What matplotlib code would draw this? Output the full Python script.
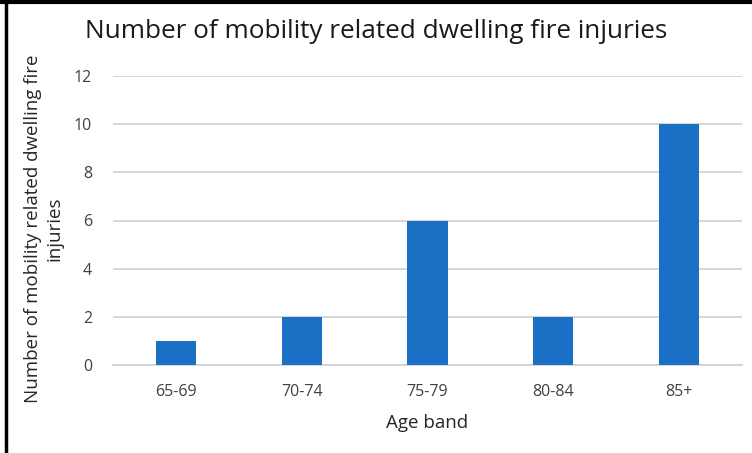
import matplotlib.pyplot as plt
from matplotlib.lines import Line2D

# data
age_bands = ['65-69', '70-74', '75-79', '80-84', '85+']
injuries = [1, 2, 6, 2, 10]
y_ticks = [0, 2, 4, 6, 8, 10, 12]

plt.rcParams['font.family'] = ['Open Sans', 'DejaVu Sans']

fig = plt.figure(figsize=(7.52, 4.53), dpi=100)
ax = fig.add_axes([113 / 752, 1 - 365 / 453, 629 / 752, 289 / 453])

x = range(len(age_bands))
ax.bar(x, injuries, width=0.32, color='#1a70c5', zorder=3)

ax.set_xlim(-0.5, len(age_bands) - 0.5)
ax.set_ylim(0, 12)
ax.set_yticks(y_ticks)
ax.set_xticks(list(x))
ax.set_xticklabels(age_bands)
ax.grid(axis='y', color='#d0d0d0', linewidth=1.2, zorder=0)
for s in ['top', 'right', 'left']:
    ax.spines[s].set_visible(False)
ax.spines['bottom'].set_color('#d0d0d0')
ax.spines['bottom'].set_linewidth(1.2)
ax.tick_params(axis='both', length=0, labelsize=11.5, colors='#404040')
ax.tick_params(axis='y', pad=15)
ax.tick_params(axis='x', pad=14)

ax.set_xlabel('Age band', fontsize=13.5, color='#262626', labelpad=10)
ax.set_ylabel('Number of mobility related dwelling fire\ninjuries', fontsize=13.5,
              color='#262626', linespacing=1.3)
ax.yaxis.set_label_coords(-0.078, 0.47)

fig.text(0.5, 1 - 32 / 453, 'Number of mobility related dwelling fire injuries',
         ha='center', va='center', fontsize=18.8, color='#1a1a1a')

# frame edges of the screenshot
fig.add_artist(Line2D([6 / 752, 6 / 752], [0, 1], color='black', linewidth=2.5))
fig.add_artist(Line2D([0, 1], [1 - 2 / 453, 1 - 2 / 453], color='black', linewidth=3))

fig.savefig('out.png', dpi=100)
